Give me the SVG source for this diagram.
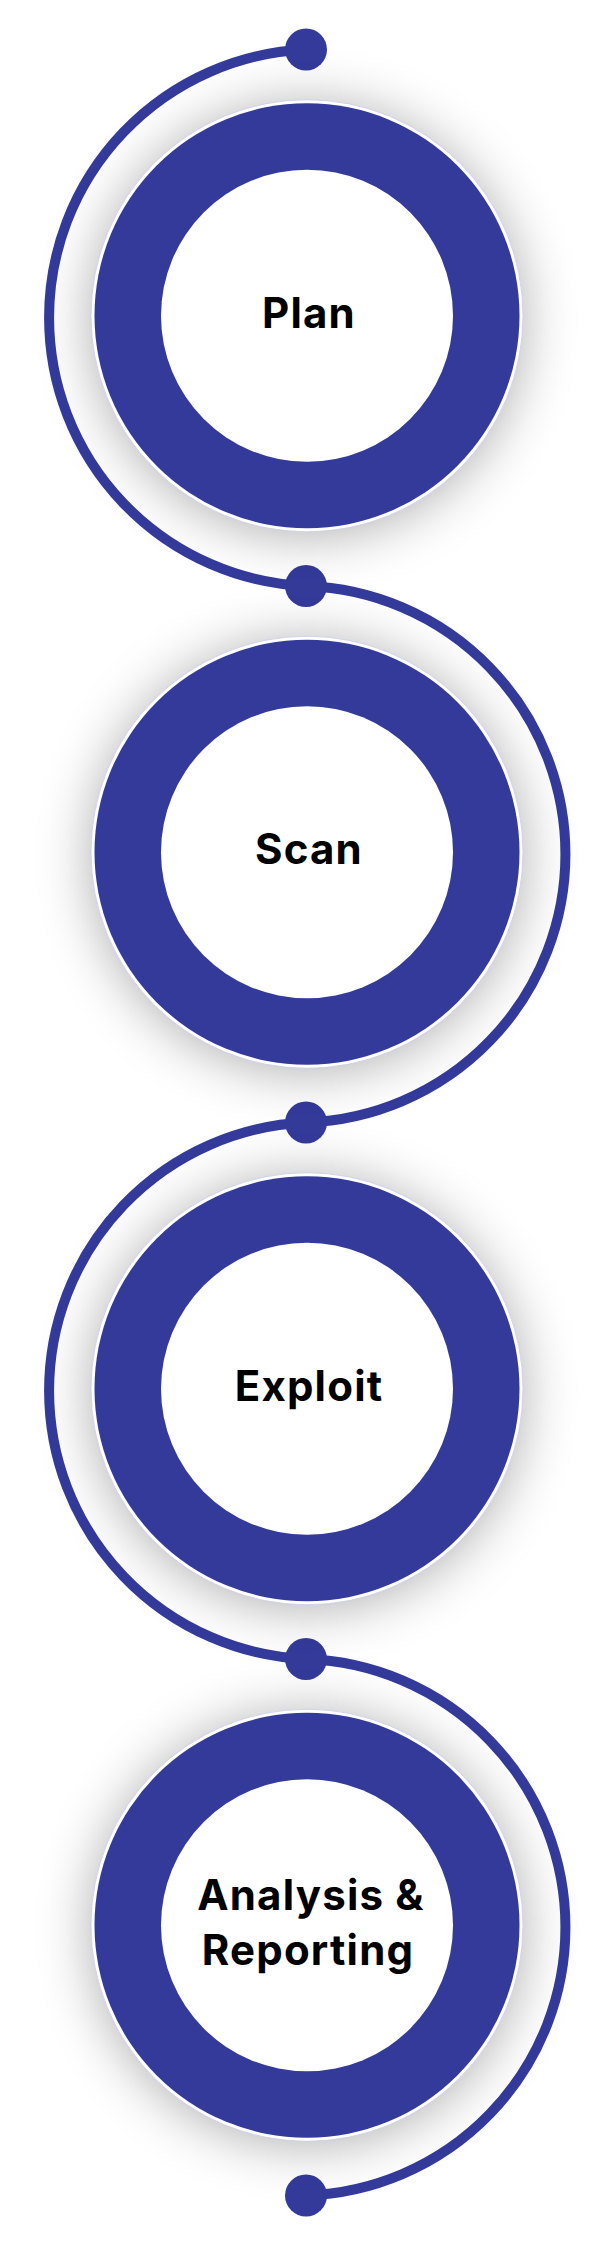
<svg xmlns="http://www.w3.org/2000/svg" width="589" height="2241" viewBox="0 0 589 2241">
  <defs>
    <filter id="shadow" x="-50%" y="-50%" width="200%" height="200%">
      <feGaussianBlur in="SourceAlpha" stdDeviation="28"/>
      <feOffset dx="0" dy="4" result="b"/>
      <feComponentTransfer><feFuncA type="linear" slope="0.34"/></feComponentTransfer>
    </filter>
    <style>
      .shadow { fill: #000; filter: url(#shadow); }
      .border { fill: #ffffff; stroke: #c9cbe6; stroke-width: 0.8; }
      .ring { fill: #343a9a; }
      .hole { fill: #ffffff; }
      .label { font-family: Inter, "Open Sans", "Liberation Sans", sans-serif; font-weight: 700; font-size: 42px; letter-spacing: 1.2px; fill: #000; text-anchor: middle; }
      .wire { fill: none; stroke: #343a9a; stroke-width: 10; }
      .dot { fill: #343a9a; }
    </style>
  </defs>
  <rect width="589" height="2241" fill="#ffffff"/>

  <g id="connectors">
    <path class="wire" d="M306,49.5 A268.5,268.5 0 0 0 306,586"/>
    <path class="wire" d="M306,586 A268.4,268.4 0 0 1 306,1122.5"/>
    <path class="wire" d="M306,1122.5 A268.5,268.5 0 0 0 306,1659"/>
    <path class="wire" d="M306,1659 A268.4,268.4 0 0 1 306,2195.5"/>
    <circle class="dot" cx="306" cy="49.5" r="21"/>
    <circle class="dot" cx="306" cy="586" r="21"/>
    <circle class="dot" cx="306" cy="1122.5" r="21"/>
    <circle class="dot" cx="306" cy="1659" r="21"/>
    <circle class="dot" cx="306" cy="2195.5" r="21"/>
  </g>

  <g id="node-plan">
    <circle class="shadow" cx="307" cy="315.75" r="214"/>
    <circle class="border" cx="307" cy="315.75" r="216"/>
    <circle class="ring" cx="307" cy="315.75" r="212.5"/>
    <circle class="hole" cx="307" cy="315.75" r="146"/>
    <text class="label" x="309" y="327.5">Plan</text>
  </g>

  <g id="node-scan">
    <circle class="shadow" cx="307" cy="852.25" r="214"/>
    <circle class="border" cx="307" cy="852.25" r="216"/>
    <circle class="ring" cx="307" cy="852.25" r="212.5"/>
    <circle class="hole" cx="307" cy="852.25" r="146"/>
    <text class="label" x="309" y="864">Scan</text>
  </g>

  <g id="node-exploit">
    <circle class="shadow" cx="307" cy="1388.75" r="214"/>
    <circle class="border" cx="307" cy="1388.75" r="216"/>
    <circle class="ring" cx="307" cy="1388.75" r="212.5"/>
    <circle class="hole" cx="307" cy="1388.75" r="146"/>
    <text class="label" x="309" y="1400.5">Exploit</text>
  </g>

  <g id="node-analysis">
    <circle class="shadow" cx="307" cy="1925.25" r="214"/>
    <circle class="border" cx="307" cy="1925.25" r="216"/>
    <circle class="ring" cx="307" cy="1925.25" r="212.5"/>
    <circle class="hole" cx="307" cy="1925.25" r="146"/>
    <text class="label" x="311" y="1910">Analysis &amp;</text>
    <text class="label" x="308" y="1965">Reporting</text>
  </g>
</svg>
